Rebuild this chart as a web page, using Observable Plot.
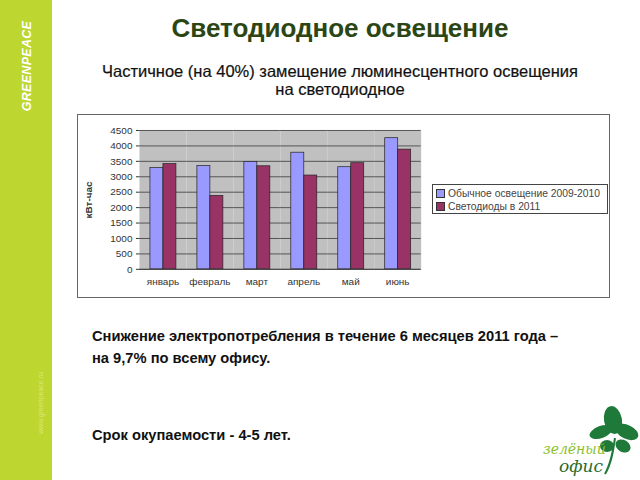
<!DOCTYPE html>
<html>
<head>
<meta charset="utf-8">
<script src="https://cdn.jsdelivr.net/npm/d3@7"></script>
<script src="https://cdn.jsdelivr.net/npm/@observablehq/plot@0.6"></script>
<style>
  html, body { margin: 0; padding: 0; background: #fff; }
  body { width: 640px; height: 480px; position: relative; overflow: hidden; font-family: "Liberation Sans", Arial, sans-serif; }
  #side { position: absolute; left: 0; top: 0; width: 52px; height: 480px; background: #bed630; }
  #gp { position: absolute; left: 27px; top: 66px; transform: translate(-50%, -50%) rotate(-90deg); color: #fff; font-weight: bold; font-style: italic; font-size: 12.5px; letter-spacing: 0.3px; white-space: nowrap; }
  #www { position: absolute; left: 40px; top: 403px; transform: translate(-50%, -50%) rotate(-90deg); color: #dce97a; font-size: 7px; white-space: nowrap; }
  #title { position: absolute; left: 340px; top: 28px; transform: translate(-50%, -50%); font-size: 26px; font-weight: bold; color: #2b4614; white-space: nowrap; }
  #subtitle { position: absolute; left: 340px; top: 62px; transform: translateX(-50%); font-size: 16.5px; color: #111; text-align: center; line-height: 18px; white-space: nowrap; -webkit-text-stroke: 0.2px #111; }
  #chartbox { position: absolute; left: 77px; top: 114px; width: 533px; height: 184px; border: 1.5px solid #666; box-sizing: border-box; background: #fff; }
  #chart { position: absolute; left: -1.5px; top: -1.5px; }
  #legend { position: absolute; left: 432px; top: 184px; width: 176px; height: 30px; border: 1px solid #444; box-sizing: border-box; background: #fff; font-size: 10.3px; color: #444; padding: 2px 3px; line-height: 13px; white-space: nowrap; overflow: hidden; }
  .sw { display: inline-block; width: 7px; height: 7px; border: 1px solid #333; margin-right: 3px; vertical-align: -1px; }
  #body1 { position: absolute; left: 92px; top: 325px; font-size: 14.7px; font-weight: bold; color: #111; line-height: 22px; white-space: nowrap; }
  #body2 { position: absolute; left: 92px; top: 427px; font-size: 14.7px; font-weight: bold; color: #111; white-space: nowrap; }
  #logo { position: absolute; left: 535px; top: 402px; width: 105px; height: 78px; }
  [aria-label="y-axis label"] text { font-weight: bold; font-size: 10px; }
</style>
</head>
<body>
<div id="side"><div id="gp">GREENPEACE</div><div id="www">www.greenpeace.ru</div></div>
<div id="title">Светодиодное освещение</div>
<div id="subtitle">Частичное (на 40%) замещение люминесцентного освещения<br>на светодиодное</div>
<div id="chartbox"><div id="chart"></div></div>
<div id="legend"></div>
<div id="body1">Снижение электропотребления в течение 6 месяцев 2011 года –<br>на 9,7% по всему офису.</div>
<div id="body2">Срок окупаемости - 4-5 лет.</div>
<svg id="logo" viewBox="0 0 105 78">
  <g fill="#1f7a3a">
    <ellipse cx="78" cy="18" rx="9" ry="14" transform="rotate(-10 78 18)"/>
    <ellipse cx="66" cy="30" rx="12" ry="6" transform="rotate(-20 66 30)"/>
    <ellipse cx="92" cy="30" rx="12" ry="7" transform="rotate(25 92 30)"/>
    <ellipse cx="88" cy="44" rx="8" ry="6" transform="rotate(30 88 44)"/>
    <ellipse cx="72" cy="44" rx="7" ry="6"/>
  </g>
  <path d="M80 36 C78 50 76 62 70 72" stroke="#1f7a3a" stroke-width="2" fill="none"/>
  <text x="8" y="52" font-size="14" font-style="italic" fill="#8cbf2e" font-family="DejaVu Serif, serif">зелёный</text>
  <text x="24" y="70" font-size="17" font-style="italic" fill="#2a6b2a" font-family="DejaVu Serif, serif">офис</text>
</svg>
<script>
const months = ["январь", "февраль", "март", "апрель", "май", "июнь"];
const seriesNames = ["Обычное освещение 2009-2010", "Светодиоды в 2011"];
const regular = [3280, 3350, 3480, 3780, 3310, 4250];
const led = [3410, 2380, 3340, 3040, 3440, 3880];
const yTicks = [0, 500, 1000, 1500, 2000, 2500, 3000, 3500, 4000, 4500];
const seriesColors = ["#9999ff", "#993366"];

const data = months.flatMap((m, i) => [
  {month: m, series: seriesNames[0], value: regular[i]},
  {month: m, series: seriesNames[1], value: led[i]}
]);

const chart = Plot.plot({
  width: 533,
  height: 184,
  marginLeft: 60,
  marginRight: 187,
  marginTop: 16,
  marginBottom: 29,
  style: {fontFamily: "'Liberation Sans', Arial, sans-serif", fontSize: "10px", color: "#333", background: "transparent", overflow: "visible"},
  fx: {domain: months, padding: 0, label: null, tickSize: 0, tickPadding: 9},
  x: {domain: seriesNames, axis: null, paddingInner: 0, paddingOuter: 0.714},
  y: {domain: [0, 4500], ticks: yTicks, tickFormat: "d", tickSize: 3, tickPadding: 4, label: "кВт-час", labelAnchor: "center", labelOffset: 55, labelArrow: "none"},
  color: {domain: seriesNames, range: seriesColors},
  marks: [
    Plot.frame({fill: "#c0c0c0"}),
    Plot.ruleY(yTicks, {stroke: "#555", strokeWidth: 1}),
    Plot.barY(data, {fx: "month", x: "series", y: "value", fill: "series", stroke: "#222", strokeWidth: 0.7}),
    Plot.ruleY([0], {stroke: "#444"})
  ]
});
document.getElementById("chart").appendChild(chart);

const legend = document.getElementById("legend");
seriesNames.forEach((s, i) => {
  const row = document.createElement("div");
  const sw = document.createElement("span");
  sw.className = "sw";
  sw.style.background = seriesColors[i];
  row.appendChild(sw);
  row.appendChild(document.createTextNode(s));
  legend.appendChild(row);
});
</script>
</body>
</html>
